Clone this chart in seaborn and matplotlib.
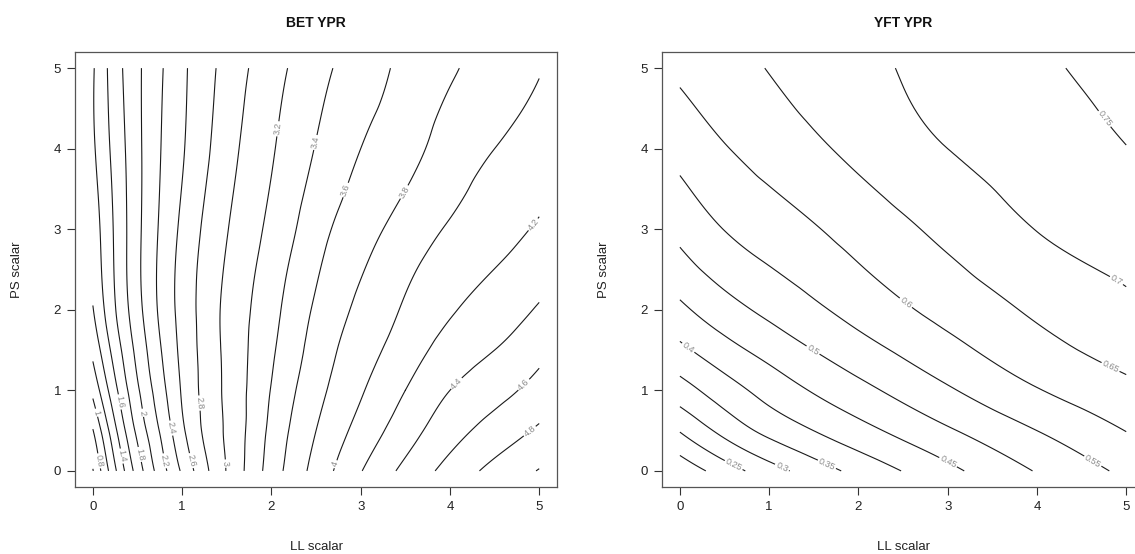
import numpy as np
import matplotlib
matplotlib.use("Agg")
import matplotlib.pyplot as plt
import matplotlib.tri as mtri
import seaborn as sns

# ---- BET yield-per-recruit surface (rows: PS scalar, columns: LL scalar) ----
bet_ll = [0, 0.25, 0.5, 0.75, 1, 1.5, 2, 2.5, 3, 3.5, 4, 4.5, 5]
bet_ps = [0, 0.5, 1, 1.5, 2, 3, 4, 5]
bet_ypr_ps0 = [0.59, 1.17, 1.69, 2.09, 2.43, 3.01, 3.49, 3.87, 4.19, 4.45, 4.67, 4.86, 5.01]
bet_ypr_ps05 = [0.79, 1.36, 1.85, 2.21, 2.56, 3.03, 3.45, 3.80, 4.07, 4.31, 4.52, 4.68, 4.83]
bet_ypr_ps1 = [1.05, 1.55, 1.97, 2.31, 2.62, 3.04, 3.41, 3.735, 3.98, 4.20, 4.40, 4.53, 4.67]
bet_ypr_ps15 = [1.25, 1.69, 2.06, 2.38, 2.65, 3.045, 3.37, 3.68, 3.91, 4.10, 4.28, 4.40, 4.545]
bet_ypr_ps2 = [1.39, 1.79, 2.13, 2.43, 2.67, 3.047, 3.335, 3.63, 3.845, 4.025, 4.18, 4.29, 4.42]
bet_ypr_ps3 = [1.49, 1.83, 2.15, 2.42, 2.64, 2.99, 3.25, 3.52, 3.72, 3.88, 4.02, 4.12, 4.225]
bet_ypr_ps4 = [1.57, 1.87, 2.15, 2.39, 2.58, 2.92, 3.18, 3.41, 3.60, 3.73, 3.89, 4.00, 4.09]
bet_ypr_ps5 = [1.58, 1.91, 2.16, 2.37, 2.56, 2.87, 3.12, 3.33, 3.50, 3.65, 3.775, 3.89, 3.99]
bet_levels = [0.6, 0.8, 1.0, 1.2, 1.4, 1.6, 1.8, 2.0, 2.2, 2.4, 2.6, 2.8, 3.0,
              3.2, 3.4, 3.6, 3.8, 4.0, 4.2, 4.4, 4.6, 4.8, 5.0]

# ---- YFT yield-per-recruit surface (rows: PS scalar, columns: LL scalar) ----
yft_ll = [0, 0.5, 1, 2, 3, 4, 5]
yft_ps = [0, 0.5, 1, 2, 3, 4, 5]
yft_ypr_ps0 = [0.165, 0.224, 0.278, 0.365, 0.437, 0.503, 0.560]
yft_ypr_ps05 = [0.253, 0.315, 0.364, 0.433, 0.494, 0.550, 0.601]
yft_ypr_ps1 = [0.328, 0.377, 0.419, 0.485, 0.544, 0.597, 0.637]
yft_ypr_ps2 = [0.439, 0.480, 0.512, 0.568, 0.616, 0.658, 0.690]
yft_ypr_ps3 = [0.514, 0.551, 0.575, 0.619, 0.663, 0.701, 0.722]
yft_ypr_ps4 = [0.567, 0.597, 0.620, 0.663, 0.700, 0.725, 0.749]
yft_ypr_ps5 = [0.609, 0.631, 0.652, 0.687, 0.716, 0.742, 0.766]
yft_levels = [0.2, 0.25, 0.3, 0.35, 0.4, 0.45, 0.5, 0.55, 0.6, 0.65, 0.7, 0.75]

axis_ticks = [0, 1, 2, 3, 4, 5]

# Where the contour labels sit (LL, PS)
bet_label_spots = [(0.10, 0.13), (0.03, 0.72), (0.35, 0.19), (0.27, 0.85), (0.55, 0.21),
                   (0.55, 0.72), (0.83, 0.13), (0.87, 0.53), (1.11, 0.13), (1.17, 0.84),
                   (1.47, 0.09), (2.05, 4.25), (2.48, 4.08), (2.85, 3.48), (3.46, 3.48),
                   (2.70, 0.09), (4.91, 3.08), (4.07, 1.09), (4.81, 1.09), (4.89, 0.50)]
yft_label_spots = [(0.61, 0.09), (1.15, 0.06), (1.65, 0.09), (0.08, 1.51), (3.00, 0.10),
                   (1.48, 1.48), (4.63, 0.13), (2.54, 2.10), (4.82, 1.28), (4.85, 2.29),
                   (4.71, 4.33)]

sns.set_theme(style="ticks")
plt.rcParams["font.family"] = ["Liberation Sans", "DejaVu Sans"]
plt.rcParams["axes.linewidth"] = 0.8

fig = plt.figure(figsize=(11.35, 5.54), dpi=100)
ax_bet = fig.add_axes([0.0661, 0.1209, 0.4247, 0.7852])
ax_yft = fig.add_axes([0.5833, 0.1209, 0.4247, 0.7852])


def contour_panel(ax, ll, ps, rows, levels, title, spots):
    grid_ll, grid_ps = np.meshgrid(ll, ps)
    z = np.array(rows, dtype=float).ravel()
    tri = mtri.Triangulation(grid_ll.ravel(), grid_ps.ravel())
    smooth = mtri.CubicTriInterpolator(tri, z, kind="min_E")
    refiner = mtri.UniformTriRefiner(tri)
    tri_fine, z_fine = refiner.refine_field(z, triinterpolator=smooth, subdiv=4)
    cs = ax.tricontour(tri_fine, z_fine, levels=levels, colors="#1a1a1a",
                       linewidths=0.8)
    ax.clabel(cs, fmt=lambda v: f"{v:g}", fontsize=6.5, colors="#8a8a8a",
              inline=True, inline_spacing=2, manual=spots)
    ax.set_xlim(-0.2, 5.2)
    ax.set_ylim(-0.2, 5.2)
    ax.set_xticks(axis_ticks)
    ax.set_yticks(axis_ticks)
    ax.tick_params(direction="out", length=6, width=0.8, labelsize=9.5,
                   color="#333333", labelcolor="#222222", pad=4)
    for side in ax.spines.values():
        side.set_color("#555555")
        side.set_linewidth(0.9)
    ax.set_title(title, fontsize=10, fontweight="bold", pad=18, color="#111111")
    ax.set_xlabel("LL scalar", fontsize=9.5, labelpad=20, color="#222222")
    ax.set_ylabel("PS scalar", fontsize=9.5, labelpad=22, color="#222222")


contour_panel(ax_bet, bet_ll, bet_ps,
              [bet_ypr_ps0, bet_ypr_ps05, bet_ypr_ps1, bet_ypr_ps15, bet_ypr_ps2,
               bet_ypr_ps3, bet_ypr_ps4, bet_ypr_ps5],
              bet_levels, "BET YPR", bet_label_spots)
contour_panel(ax_yft, yft_ll, yft_ps,
              [yft_ypr_ps0, yft_ypr_ps05, yft_ypr_ps1, yft_ypr_ps2,
               yft_ypr_ps3, yft_ypr_ps4, yft_ypr_ps5],
              yft_levels, "YFT YPR", yft_label_spots)

fig.savefig("out.png", dpi=100)
